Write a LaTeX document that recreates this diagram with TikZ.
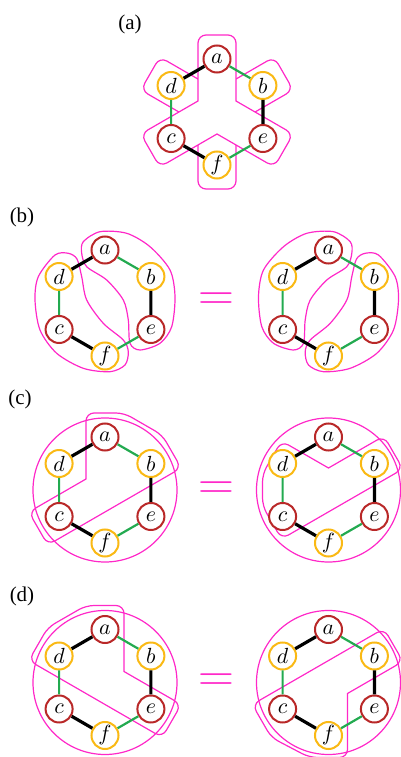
\documentclass[tikz,border=0pt]{standalone}
\usepackage{fontspec}
\setmainfont{Liberation Serif}
\usepackage{xcolor}
\definecolor{nodered}{RGB}{185,40,40}
\definecolor{nodeyellow}{RGB}{250,185,20}
\definecolor{edgegreen}{RGB}{35,170,80}
\definecolor{hullpink}{RGB}{255,40,200}
\usepackage{tikz}
\usetikzlibrary{calc}
\newcommand{\hexradius}{53}
\newcommand{\sixcycle}[1]{%
  \path (0,0)
    +(90:\hexradius) node[red vertex] (#1-a) {$a$}
    +(30:\hexradius) node[yellow vertex] (#1-b) {$b$}
    +(330:\hexradius) node[red vertex] (#1-e) {$e$}
    +(270:\hexradius) node[yellow vertex] (#1-f) {$f$}
    +(210:\hexradius) node[red vertex] (#1-c) {$c$}
    +(150:\hexradius) node[yellow vertex] (#1-d) {$d$};
  \draw[black edge] (#1-a) -- (#1-d) (#1-b) -- (#1-e) (#1-c) -- (#1-f);
  \draw[green edge] (#1-a) -- (#1-b) (#1-e) -- (#1-f) (#1-c) -- (#1-d);
}
\tikzset{
    vertex/.style={draw, circle, fill=white, line width=1pt, minimum size=13.5pt, inner sep=0pt,
        font=\fontsize{11}{11}\selectfont},
    red vertex/.style={vertex, draw=nodered},
    yellow vertex/.style={vertex, draw=nodeyellow},
    black edge/.style={line width=1.6pt, black},
    green edge/.style={line width=1.1pt, edgegreen},
    hull/.style={draw=hullpink, line width=0.6pt},
    white hull/.style={hull, fill=white},
    panel label/.style={font=\fontsize{10.5}{12}\selectfont},
    equals/.style={text=hullpink, font=\fontsize{24}{24}\selectfont}
}

\begin{document}
\begin{tikzpicture}[x=0.5pt, y=0.5pt]
            \useasboundingbox (0,0) rectangle (401,757);

            \node[panel label] (label-a) at (130,733) {(a)};
            \node[panel label] (label-b) at (22,540) {(b)};
            \node[panel label] (label-c) at (20,358) {(c)};
            \node[panel label] (label-d) at (22,161) {(d)};

            % (a): the two tripods, yellow one below the red one
            \begin{scope}[shift={(217,645)}]
                \draw[white hull, yscale=-1] (-19,11) -- (-47.6,-5.5) [rounded corners=4pt] -- (-76.2,-22) -- (-57.2,-55) -- (-28.6,-38.5)
                    [sharp corners] -- (0,-22) -- (28.6,-38.5) [rounded corners=4pt] -- (57.2,-55) -- (76.2,-22) -- (47.6,-5.5)
                    [sharp corners] -- (19,11) -- (19,44) [rounded corners=4pt] -- (19,77) -- (-19,77) -- (-19,44) [sharp corners] -- cycle;
                \draw[white hull] (-19,11) -- (-47.6,-5.5) [rounded corners=4pt] -- (-76.2,-22) -- (-57.2,-55) -- (-28.6,-38.5)
                    [sharp corners] -- (0,-22) -- (28.6,-38.5) [rounded corners=4pt] -- (57.2,-55) -- (76.2,-22) -- (47.6,-5.5)
                    [sharp corners] -- (19,11) -- (19,44) [rounded corners=4pt] -- (19,77) -- (-19,77) -- (-19,44) [sharp corners] -- cycle;
                \sixcycle{pa}
            \end{scope}

            % (b)
            \begin{scope}[shift={(105,454)}]
                \draw[hull] plot[smooth cycle] coordinates {(-21.7,61.3) (-5,71.3) (21.7,69.7) (45,56.3) (65,33) (70,6.3) (66.7,-23.7)
                    (55,-40.3) (35,-47) (25,-40.3) (23.3,-17) (18.3,3) (1.7,23) (-18.3,36.3) (-23.3,49.7)};
                \draw[hull] plot[smooth cycle] coordinates {(-36.7,49.7) (-50,48) (-66.7,26.3) (-70,3) (-65,-27) (-48.3,-50.3) (-21.7,-65.3)
                    (5,-68.7) (20,-62) (23.3,-48.7) (18.3,-37) (-1.7,-20.3) (-18.3,3) (-23.3,26.3) (-28,44)};
                \sixcycle{pbl}
            \end{scope}
            \node[equals] (eq-b) at (216,455.5) {$=$};
            \begin{scope}[shift={(328.5,454)}]
                \begin{scope}[xscale=-1]
                    \draw[hull] plot[smooth cycle] coordinates {(-21.7,61.3) (-5,71.3) (21.7,69.7) (45,56.3) (65,33) (70,6.3) (66.7,-23.7)
                        (55,-40.3) (35,-47) (25,-40.3) (23.3,-17) (18.3,3) (1.7,23) (-18.3,36.3) (-23.3,49.7)};
                    \draw[hull] plot[smooth cycle] coordinates {(-36.7,49.7) (-50,48) (-66.7,26.3) (-70,3) (-65,-27) (-48.3,-50.3) (-21.7,-65.3)
                        (5,-68.7) (20,-62) (23.3,-48.7) (18.3,-37) (-1.7,-20.3) (-18.3,3) (-23.3,26.3) (-28,44)};
                \end{scope}
                \sixcycle{pbr}
            \end{scope}

            % (c)
            \begin{scope}[shift={(105,267)}]
                \draw[hull] (0,0) circle (72);
                \draw[hull] (-19,11) -- (-19,44) [rounded corners=4pt] -- (-19,77) -- (19,77) -- (57.2,55) -- (76.2,22) -- (-57.2,-55)
                    -- (-76.2,-22) -- (-47.6,-5.5) [sharp corners] -- cycle;
                \sixcycle{pcl}
            \end{scope}
            \node[equals] (eq-c) at (216,266.5) {$=$};
            \begin{scope}[shift={(328.5,267)}]
                \draw[hull] (0,0) circle (72);
                \draw[hull] (0,22) -- (27.7,38) [rounded corners=4pt] -- (55.45,53.95) -- (74.45,21.05) -- (-47,-49) -- (-66,-16)
                    -- (-66,16) -- (-47,49) -- (-23.5,35.5) [sharp corners] -- cycle;
                \sixcycle{pcr}
            \end{scope}

            % (d)
            \begin{scope}[shift={(105,74.5)}]
                \draw[hull] (0,0) circle (72);
                \draw[hull] (19,11) -- (47.6,-5.5) [rounded corners=4pt] -- (76.2,-22) -- (57.2,-55) -- (-76.2,22) -- (-57.2,55)
                    -- (-19,77) -- (19,77) -- (19,44) [sharp corners] -- cycle;
                \sixcycle{pdl}
            \end{scope}
            \node[equals] (eq-d) at (216,74.5) {$=$};
            \begin{scope}[shift={(328.5,74.5)}]
                \draw[hull] (0,0) circle (72);
                \draw[hull] (19,-11) -- (46.7,5) [rounded corners=4pt] -- (74.45,21.05) -- (55.45,53.95) -- (-76.2,-22) -- (-57.2,-55)
                    -- (-19,-75) -- (19,-75) -- (19,-44) [sharp corners] -- cycle;
                \sixcycle{pdr}
            \end{scope}
\end{tikzpicture}
\end{document}
